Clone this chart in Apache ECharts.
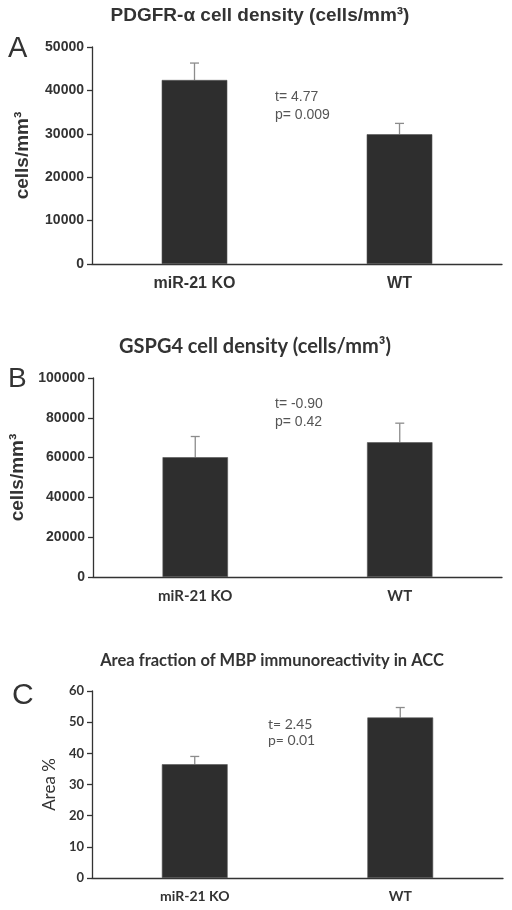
<!DOCTYPE html>
<html>
<head>
<meta charset="utf-8">
<script src="https://cdn.jsdelivr.net/npm/echarts@6/dist/echarts.min.js"></script>
<style>
html,body{margin:0;padding:0;background:#fff;}
#chart{width:512px;height:910px;}
</style>
</head>
<body>
<div id="chart"></div>
<script>
// ---- data ----
const categories = ['miR-21 KO', 'WT'];
// Panel A: PDGFR-α cell density
const pdgfrMean = [42400, 29900];
const pdgfrErr = [3900, 2500];
const pdgfrTicks = { min: 0, max: 50000, interval: 10000 };
// Panel B: GSPG4 cell density
const gspgMean = [60200, 67700];
const gspgErr = [10400, 9600];
const gspgTicks = { min: 0, max: 100000, interval: 20000 };
// Panel C: MBP area fraction
const mbpMean = [36.5, 51.5];
const mbpErr = [2.5, 3.2];
const mbpTicks = { min: 0, max: 60, interval: 10 };

const titles = ['PDGFR-α cell density (cells/mm³)', 'GSPG4 cell density (cells/mm³)', 'Area fraction of MBP immunoreactivity in ACC'];
const letters = ['A', 'B', 'C'];
const stats = [['t= 4.77', 'p= 0.009'], ['t= -0.90', 'p= 0.42'], ['t= 2.45', 'p= 0.01']];
const yNames = ['cells/mm³', 'cells/mm³', 'Area %'];

const ARIAL = '"Liberation Sans", Arial, sans-serif';
const CAL = 'Lato, "Liberation Sans", sans-serif';
const DARK = '#333333';
const BAR = '#2e2e2e';
const ERR = '#8c8c8c';

const grids = [
  { left: 92, top: 47, width: 410, height: 217 },
  { left: 93, top: 378, width: 409, height: 199 },
  { left: 92, top: 691, width: 411, height: 187 }
];

const means = [pdgfrMean, gspgMean, mbpMean];
const errs = [pdgfrErr, gspgErr, mbpErr];
const ticks = [pdgfrTicks, gspgTicks, mbpTicks];

const xLabelStyles = [
  { fontFamily: ARIAL, fontWeight: 'bold', fontSize: 16, margin: 12 },
  { fontFamily: CAL, fontWeight: 'bold', fontSize: 15, margin: 12 },
  { fontFamily: CAL, fontWeight: 'bold', fontSize: 14, margin: 11 }
];
const yLabelStyles = [
  { fontFamily: ARIAL, fontWeight: 'bold', fontSize: 14 },
  { fontFamily: ARIAL, fontWeight: 'bold', fontSize: 14 },
  { fontFamily: CAL, fontWeight: 'bold', fontSize: 13 }
];
const yNameStyles = [
  { fontFamily: ARIAL, fontWeight: 'bold', fontSize: 19, gap: 60 },
  { fontFamily: ARIAL, fontWeight: 'bold', fontSize: 19, gap: 60 },
  { fontFamily: CAL, fontWeight: 'normal', fontSize: 17, gap: 30 }
];

const xAxis = [], yAxis = [], series = [];
for (let i = 0; i < 3; i++) {
  xAxis.push({
    type: 'category', gridIndex: i, data: categories,
    axisLine: { lineStyle: { color: DARK, width: 1.3 } },
    axisTick: { show: false },
    axisLabel: {
      color: DARK, fontFamily: xLabelStyles[i].fontFamily, fontWeight: xLabelStyles[i].fontWeight,
      fontSize: xLabelStyles[i].fontSize, margin: xLabelStyles[i].margin
    }
  });
  yAxis.push({
    type: 'value', gridIndex: i, min: ticks[i].min, max: ticks[i].max, interval: ticks[i].interval,
    name: yNames[i], nameLocation: 'middle', nameGap: yNameStyles[i].gap,
    nameTextStyle: { color: DARK, fontFamily: yNameStyles[i].fontFamily, fontWeight: yNameStyles[i].fontWeight, fontSize: yNameStyles[i].fontSize },
    axisLine: { show: true, lineStyle: { color: DARK, width: 1.3 } },
    axisTick: { show: true, length: 5, lineStyle: { color: DARK, width: 1.3 } },
    splitLine: { show: false },
    axisLabel: {
      color: DARK, fontFamily: yLabelStyles[i].fontFamily, fontWeight: yLabelStyles[i].fontWeight,
      fontSize: yLabelStyles[i].fontSize, margin: 8,
      formatter: function (v) { return String(v); }
    }
  });
  series.push({
    type: 'bar', xAxisIndex: i, yAxisIndex: i, data: means[i], barWidth: '32%',
    itemStyle: { color: BAR, borderColor: '#555', borderWidth: 0.6 }, z: 2
  });
  series.push({
    type: 'custom', xAxisIndex: i, yAxisIndex: i, z: 1,
    data: means[i].map((m, k) => [k, m, m + errs[i][k]]),
    renderItem: function (params, api) {
      const c = api.value(0);
      const base = api.coord([c, api.value(1)]);
      const top = api.coord([c, api.value(2)]);
      const hw = 4.5;
      return {
        type: 'group',
        children: [
          { type: 'line', shape: { x1: base[0], y1: base[1], x2: top[0], y2: top[1] }, style: { stroke: ERR, lineWidth: 1.3 } },
          { type: 'line', shape: { x1: top[0] - hw, y1: top[1], x2: top[0] + hw, y2: top[1] }, style: { stroke: ERR, lineWidth: 1.3 } }
        ]
      };
    }
  });
}

const gItems = [];
const titlePos = [[260, 16, ARIAL, 'bold', 19], [255, 347, CAL, 'bold', 20], [272, 661, CAL, 'bold', 16.5]];
const letterPos = [[8, 49, 29], [8, 379, 28], [12, 696, 30]];
const statPos = [[275, 97, 115, ARIAL, 14], [275, 404, 422, ARIAL, 14], [268, 724, 740, CAL, 14]];
for (let i = 0; i < 3; i++) {
  gItems.push({ type: 'text', x: titlePos[i][0], y: titlePos[i][1], style: { text: titles[i], fill: DARK, fontFamily: titlePos[i][2], fontWeight: titlePos[i][3], fontSize: titlePos[i][4], align: 'center', verticalAlign: 'middle' } });
  gItems.push({ type: 'text', x: letterPos[i][0], y: letterPos[i][1], style: { text: letters[i], fill: DARK, fontFamily: ARIAL, fontSize: letterPos[i][2], align: 'left', verticalAlign: 'middle' } });
  gItems.push({ type: 'text', x: statPos[i][0], y: statPos[i][1], style: { text: stats[i][0], fill: '#555', fontFamily: statPos[i][3], fontSize: statPos[i][4], align: 'left', verticalAlign: 'middle' } });
  gItems.push({ type: 'text', x: statPos[i][0], y: statPos[i][2], style: { text: stats[i][1], fill: '#555', fontFamily: statPos[i][3], fontSize: statPos[i][4], align: 'left', verticalAlign: 'middle' } });
}

const chart = echarts.init(document.getElementById('chart'), null, { renderer: 'canvas' });
chart.setOption({
  animation: false,
  backgroundColor: '#ffffff',
  grid: grids,
  xAxis: xAxis,
  yAxis: yAxis,
  series: series,
  graphic: gItems
});
</script>
</body>
</html>
